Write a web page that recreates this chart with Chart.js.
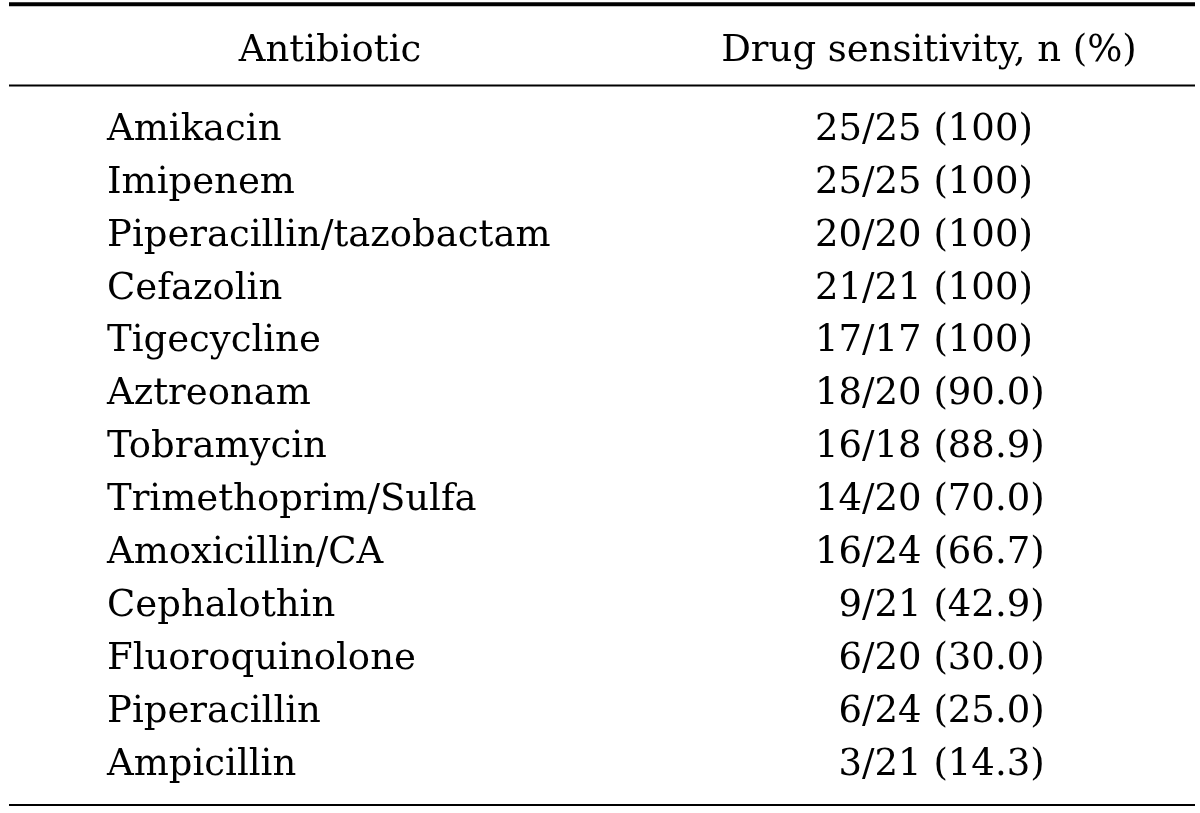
<!DOCTYPE html>
<html><head><meta charset="utf-8">
<script src="https://cdn.jsdelivr.net/npm/chart.js@4.4.0/dist/chart.umd.min.js"></script>
<style>html,body{margin:0;padding:0;background:#fff;overflow:hidden}</style>
</head><body><canvas id="c" width="1200" height="813"></canvas>
<script>
const headers = ['Antibiotic', 'Drug sensitivity, n (%)'];
const antibiotics = ['Amikacin','Imipenem','Piperacillin/tazobactam','Cefazolin','Tigecycline','Aztreonam','Tobramycin','Trimethoprim/Sulfa','Amoxicillin/CA','Cephalothin','Fluoroquinolone','Piperacillin','Ampicillin'];
const sensitive = [25,25,20,21,17,18,16,14,16,9,6,6,3];
const tested = [25,25,20,21,17,20,18,20,24,21,20,24,21];
const percentLabels = ['100','100','100','100','100','90.0','88.9','70.0','66.7','42.9','30.0','25.0','14.3'];

const FONT = '37px "DejaVu Serif"';
const tablePlugin = {
  id: 'tablePlugin',
  afterDraw(chart) {
    const ctx = chart.ctx, xs = chart.scales.x, ys = chart.scales.y;
    const step = ys.getPixelForValue(1) - ys.getPixelForValue(0);
    const L = xs.getPixelForValue(9), R = xs.getPixelForValue(1195);
    ctx.save();
    ctx.fillStyle = '#000'; ctx.strokeStyle = '#000';
    const rule = (y, w) => { ctx.lineWidth = w; ctx.beginPath(); ctx.moveTo(L, y); ctx.lineTo(R, y); ctx.stroke(); };
    rule(4.3, 4);
    rule(ys.getPixelForValue(0) - 42, 2);
    rule(ys.getPixelForValue(antibiotics.length - 1) + 43, 2);
    ctx.font = FONT;
    ctx.textBaseline = 'alphabetic';
    const base = 12.5;
    const hy = ys.getPixelForValue(0) - 1.5 * step + base;
    ctx.textAlign = 'center';
    ctx.fillText(headers[0], xs.getPixelForValue(330), hy);
    ctx.fillText(headers[1], xs.getPixelForValue(929), hy);
    const slashX = xs.getPixelForValue(815) + ctx.measureText('25').width;
    antibiotics.forEach((name, i) => {
      const y = ys.getPixelForValue(i) + base;
      ctx.textAlign = 'left';
      ctx.fillText(name, xs.getPixelForValue(107), y);
      ctx.textAlign = 'right';
      ctx.fillText(String(sensitive[i]), slashX, y);
      ctx.textAlign = 'left';
      ctx.fillText('/' + tested[i] + ' (' + percentLabels[i] + ')', slashX, y);
    });
    ctx.restore();
  }
};

new Chart(document.getElementById('c'), {
  type: 'scatter',
  data: {
    labels: antibiotics,
    datasets: [{
      data: antibiotics.map((a, i) => ({ x: sensitive[i] / tested[i] * 100, y: a })),
      pointRadius: 0, showLine: false
    }]
  },
  options: {
    responsive: false, animation: false, devicePixelRatio: 1,
    layout: { padding: { top: 101.06, bottom: 24.56, left: 0, right: 0 } },
    plugins: { legend: { display: false }, tooltip: { enabled: false } },
    scales: {
      x: { type: 'linear', min: 0, max: 1200, display: false },
      y: { type: 'category', labels: antibiotics, offset: true, display: false }
    }
  },
  plugins: [tablePlugin]
});
</script></body></html>
